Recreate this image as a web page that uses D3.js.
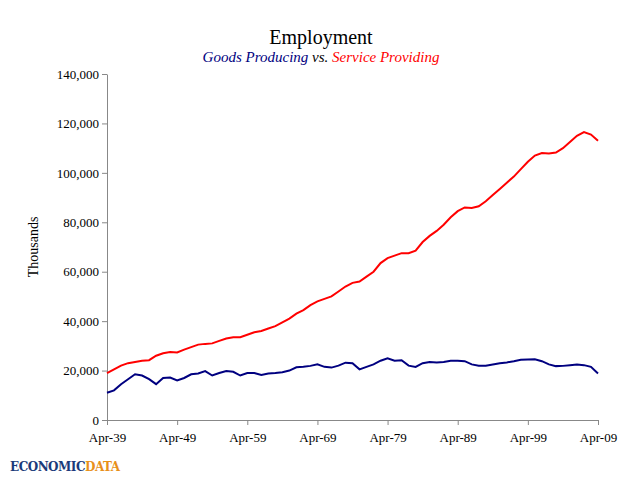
<!DOCTYPE html>
<html><head><meta charset="utf-8">
<script src="https://cdn.jsdelivr.net/npm/d3@7"></script>
<style>body{margin:0;background:#fff}svg{font-family:"Liberation Serif",serif}</style>
</head><body><div id="viz"></div>
<script>
const years = d3.range(1939, 2010);
const goods = [11000,12000,14500,16500,18500,18000,16500,14500,17000,17200,16000,17000,18500,18800,19800,18000,19000,19800,19500,18000,19000,19000,18200,18800,19000,19300,20000,21300,21500,21900,22500,21500,21200,22000,23200,23000,20500,21500,22500,24000,25000,24000,24200,22000,21500,23000,23500,23300,23500,24000,24000,23800,22500,22000,22000,22500,23000,23300,23800,24400,24500,24600,23800,22500,21800,21900,22200,22500,22200,21500,18800];
const services = [19000,20500,22000,23000,23500,24000,24200,26000,27000,27500,27300,28500,29500,30500,30800,31000,32000,33000,33500,33500,34500,35500,36000,37000,38000,39500,41000,43000,44500,46500,48000,49000,50000,52000,54000,55500,56000,58000,60000,63500,65500,66500,67500,67500,68500,72000,74500,76500,79000,82000,84500,86000,85800,86500,88500,91000,93500,96000,98500,101500,104500,107000,108000,107800,108200,110000,112500,115000,116500,115500,113000];
const xTicks = [1939,1949,1959,1969,1979,1989,1999,2009];
const yTicks = d3.range(0, 140001, 20000);

const width = 640, height = 480;
const margin = {top: 74, right: 42, bottom: 60, left: 107};
const svg = d3.select('#viz').append('svg').attr('width', width).attr('height', height);

const scaleX = d3.scaleLinear().domain([1939, 2009]).range([margin.left, width - margin.right]);
const scaleY = d3.scaleLinear().domain([0, 140000]).range([height - margin.bottom, margin.top]);

svg.append('g')
  .attr('transform', `translate(0,${height - margin.bottom})`)
  .call(d3.axisBottom(scaleX).tickValues(xTicks).tickFormat(d => 'Apr-' + String(d).slice(2)).tickSize(5).tickSizeOuter(0))
  .call(g => g.selectAll('text').attr('font-family', '"Liberation Serif",serif').attr('font-size', 13).attr('fill', '#000').attr('dy', '1.1em'))
  .call(g => g.selectAll('line,path').attr('stroke', '#888'));

svg.append('g')
  .attr('transform', `translate(${margin.left},0)`)
  .call(d3.axisLeft(scaleY).tickValues(yTicks).tickFormat(d3.format(',')).tickSize(5).tickSizeOuter(0))
  .call(g => g.selectAll('text').attr('font-family', '"Liberation Serif",serif').attr('font-size', 13).attr('fill', '#000'))
  .call(g => g.selectAll('line,path').attr('stroke', '#888'));

const line = d3.line().x((d, i) => scaleX(years[i])).y(d => scaleY(d));
svg.append('path').datum(services).attr('d', line).attr('fill', 'none').attr('stroke', '#ff0000').attr('stroke-width', 2);
svg.append('path').datum(goods).attr('d', line).attr('fill', 'none').attr('stroke', '#000080').attr('stroke-width', 2);

svg.append('text').attr('x', 321).attr('y', 44).attr('text-anchor', 'middle').attr('font-size', 20).text('Employment');
const sub = svg.append('text').attr('x', 321).attr('y', 62).attr('text-anchor', 'middle').attr('font-size', 15).attr('font-style', 'italic');
sub.append('tspan').attr('fill', '#000080').text('Goods Producing');
sub.append('tspan').attr('fill', '#000').text('  vs.  ');
sub.append('tspan').attr('fill', '#ff0000').text('Service Providing');

svg.append('text').attr('transform', 'translate(38,247) rotate(-90)').attr('text-anchor', 'middle').attr('font-size', 14).text('Thousands');

const logo = svg.append('text').attr('x', 10).attr('y', 471).attr('font-family', '"DejaVu Serif",serif').attr('font-weight', 'bold').attr('font-size', 12).attr('letter-spacing', -0.5);
logo.append('tspan').attr('fill', '#1a3a7a').text('ECONOMIC');
logo.append('tspan').attr('fill', '#e8901a').text('DATA');
</script></body></html>
